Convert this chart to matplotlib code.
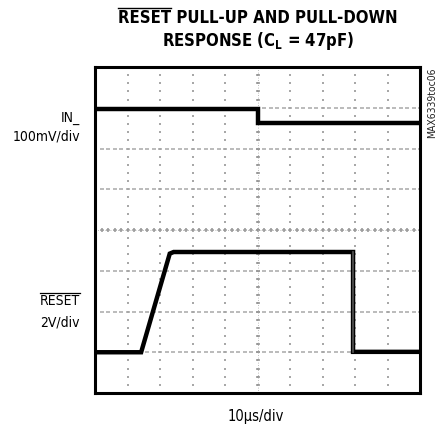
import numpy as np
import matplotlib
matplotlib.use("Agg")
import matplotlib.pyplot as plt
from matplotlib import font_manager

# scope traces, in divisions (x: 0-10 div, y: 0-8 div from bottom)
in_t = [0.0, 5.0, 5.0, 10.0]
in_v = [6.96, 6.96, 6.63, 6.63]

reset_t = [0.0, 1.42, 2.30, 2.42, 7.94, 7.94, 10.0]
reset_v = [1.0, 1.0, 3.42, 3.46, 3.46, 1.01, 1.01]

title_1 = "RESET PULL-UP AND PULL-DOWN"
title_2 = "RESPONSE (C$_\\mathregular{L}$ = 47pF)"
x_label = "10\u00b5s/div"
ch1_name, ch1_scale = "IN_", "100mV/div"
ch2_name, ch2_scale = "RESET", "2V/div"
doc_id = "MAX6339toc06"

names = {f.name for f in font_manager.fontManager.ttflist}
if "Liberation Sans Narrow" in names:
    FONT, STRETCH = ["Liberation Sans Narrow", "DejaVu Sans"], "normal"
else:
    FONT, STRETCH = ["DejaVu Sans"], "condensed"

W, H = 441, 428

fig = plt.figure(figsize=(W / 100, H / 100), dpi=100)
ax = fig.add_axes([95 / W, 1 - 393 / H, 325 / W, 326 / H])
ax.set_xlim(0, 10)
ax.set_ylim(0, 8)
ax.set_xticks([])
ax.set_yticks([])
for sp in ax.spines.values():
    sp.set_linewidth(2.2)
    sp.set_color("black")

# graticule: dotted lines every division, marks every 1/5 div
grid_col = "#a8a8a8"
fine_x = np.arange(0, 10.01, 0.2)
fine_y = np.arange(0, 8.01, 0.2)
for gx in range(1, 10):
    ax.plot(np.full_like(fine_y, gx), fine_y, ls="none", marker="s",
            ms=1.5, mew=0, color=grid_col, zorder=1)
for gy in range(1, 8):
    ax.plot(fine_x, np.full_like(fine_x, gy), ls="none", marker="_",
            ms=2.2, mew=1.1, color=grid_col, zorder=1)
# center axes with cross ticks
ax.plot(np.full_like(fine_y, 5), fine_y, ls="none", marker="_",
        ms=3.5, mew=1.1, color="#949494", zorder=1)
ax.plot(fine_x, np.full_like(fine_x, 4), ls="none", marker="|",
        ms=3.5, mew=1.1, color="#949494", zorder=1)
ax.axvline(5, color=grid_col, lw=0.6, ls=(0, (1, 2)), zorder=1)
ax.axhline(4, color=grid_col, lw=0.6, ls=(0, (1, 2)), zorder=1)

ax.plot(in_t, in_v, color="black", lw=3.2, solid_joinstyle="miter", zorder=3)
ax.plot(reset_t, reset_v, color="black", lw=3.2, solid_joinstyle="miter", zorder=3)
# thin vertical edges as seen on scope
ax.plot([in_t[1], in_t[2]], [in_v[1], in_v[2]], color="#555555", lw=1.2, zorder=2)
ax.plot([reset_t[4], reset_t[5]], [reset_v[4], reset_v[5]], color="#555555", lw=1.2, zorder=4)

txt = dict(family=FONT, stretch=STRETCH)

# titles
t1 = fig.text(258 / W, 1 - 18 / H, title_1, ha="center", va="center",
              weight="bold", fontsize=12, **txt)
fig.text(258 / W, 1 - 41 / H, title_2, ha="center", va="center",
         weight="bold", fontsize=12, **txt)

fig.text(80 / W, 1 - 118 / H, ch1_name, ha="right", va="center", fontsize=10, **txt)
fig.text(80 / W, 1 - 136 / H, ch1_scale, ha="right", va="center", fontsize=10, **txt)
t_rs = fig.text(80 / W, 1 - 301 / H, ch2_name, ha="right", va="center",
                fontsize=10, **txt)
fig.text(80 / W, 1 - 323 / H, ch2_scale, ha="right", va="center", fontsize=10, **txt)
fig.text(256 / W, 1 - 416 / H, x_label, ha="center", va="center", fontsize=10.5, **txt)
fig.text(432 / W, 1 - 103 / H, doc_id, ha="center", va="center",
         rotation=90, fontsize=7.5, color="#222222", **txt)

# overlines for the active-low RESET labels
fig.canvas.draw()
r = fig.canvas.get_renderer()
bb = t_rs.get_window_extent(r)
fig.add_artist(plt.Line2D([bb.x0 / W, bb.x1 / W], [(bb.y1 + 1) / H] * 2,
                          color="black", lw=0.9))
bb1 = t1.get_window_extent(r)
probe = fig.text(0, 0, "RESET", weight="bold", fontsize=12, **txt)
pw = probe.get_window_extent(r).width
probe.remove()
fig.add_artist(plt.Line2D([bb1.x0 / W, (bb1.x0 + pw) / W], [(bb1.y1 + 1.5) / H] * 2,
                          color="black", lw=1.0))

fig.savefig("out.png", dpi=100)
